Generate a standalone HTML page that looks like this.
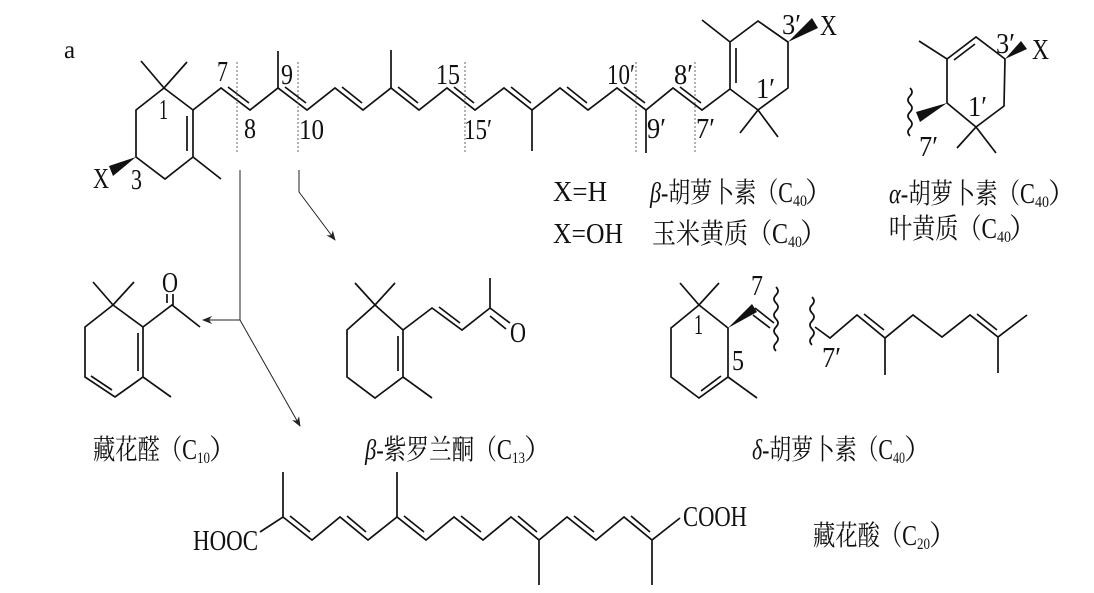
<!DOCTYPE html>
<html><head><meta charset="utf-8"><style>
html,body{margin:0;padding:0;background:#fff;}
svg{display:block;}
.b{stroke:#111;stroke-width:1.7;fill:none;stroke-linejoin:miter;}
.t{font-family:"Liberation Serif","Noto Serif CJK SC",serif;fill:#111;}
.a{stroke:#222;stroke-width:1;fill:none;}
.d{stroke:#555;stroke-width:0.9;stroke-dasharray:2,2;fill:none;}
</style></head><body>
<svg width="1094" height="593" viewBox="0 0 1094 593" xmlns="http://www.w3.org/2000/svg">
<defs><marker id="ar" markerWidth="10" markerHeight="8" refX="9" refY="4" orient="auto" markerUnits="userSpaceOnUse"><path d="M0,0 L10,4 L0,8 L3,4 Z" fill="#222"/></marker></defs>

<text class="t" x="64" y="58" font-size="25">a</text>

<!-- left beta ring -->
<path class="b" d="M141,61 L164,88 L187,62 M164,88 L193,110 L193,157 L221,179 M193,157 L165,179 L136,157 L136,110 L164,88"/>
<path class="b" d="M187,116 L187,151"/>
<polygon points="136,157 109,166 113,176" fill="#111"/>
<!-- main chain -->
<path class="b" d="M193,110 L221,88 L250,110 L278,88 L307,110 L335,88 L363,110 L391,88 L419,110 L447,88 L475,110 L504,88 L532,110 L560,88 L588,110 L617,88 L646,110 L673,88 L702,110 L730,89"/>
<path class="b" d="M278,88 L278,51 M391,88 L391,50 M532,110 L532,151 M646,110 L646,153"/>
<path class="b" d="M228,87 L249,103 M285,87 L306,103 M342,87 L362,103 M398,87 L418,103 M454,87 L474,103 M511,87 L531,103 M567,87 L587,103 M624,87 L645,103 M680,87 L701,103"/>
<!-- right beta ring -->
<path class="b" d="M730,89 L730,42 L702,20 M730,42 L758,21 L788,42 L788,88 L758,110 L730,89 M758,110 L740,133 M758,110 L778,137"/>
<path class="b" d="M736,48 L736,83"/>
<polygon points="788,42 812,18 818,28" fill="#111"/>
<!-- dashed -->
<path class="d" d="M237,62 V152 M298,62 V152 M465,62 V152 M636,62 V152 M695,62 V152"/>
<!-- labels main -->
<g class="t" font-size="28">
<text x="93" y="188" textLength="16" lengthAdjust="spacingAndGlyphs">X</text>
<text x="131" y="189" textLength="11" lengthAdjust="spacingAndGlyphs">3</text>
<text x="159" y="119" textLength="9" lengthAdjust="spacingAndGlyphs">1</text>
<text x="217" y="81" textLength="11" lengthAdjust="spacingAndGlyphs">7</text>
<text x="244" y="138" textLength="12" lengthAdjust="spacingAndGlyphs">8</text>
<text x="281" y="84" textLength="12" lengthAdjust="spacingAndGlyphs">9</text>
<text x="299" y="139" textLength="25" lengthAdjust="spacingAndGlyphs">10</text>
<text x="436" y="84" textLength="24" lengthAdjust="spacingAndGlyphs">15</text>
<text x="464" y="139" textLength="28" lengthAdjust="spacingAndGlyphs">15′</text>
<text x="607" y="84" textLength="28" lengthAdjust="spacingAndGlyphs">10′</text>
<text x="674" y="84" textLength="19" lengthAdjust="spacingAndGlyphs">8′</text>
<text x="647" y="138" textLength="19" lengthAdjust="spacingAndGlyphs">9′</text>
<text x="696" y="138" textLength="19" lengthAdjust="spacingAndGlyphs">7′</text>
<text x="756" y="98" textLength="19" lengthAdjust="spacingAndGlyphs">1′</text>
<text x="782" y="34" textLength="19" lengthAdjust="spacingAndGlyphs">3′</text>
<text x="820" y="35" textLength="17" lengthAdjust="spacingAndGlyphs">X</text>
</g>

<!-- alpha ring -->
<path class="b" d="M919,41 L947,59 L976,37 L1005,59 L1004,106 L976,127 L947,103 L947,59 M976,127 L957,148 M976,127 L996,153"/>
<path class="b" d="M954,60 L975,44"/>
<polygon points="1005,59 1021,41 1027,49" fill="#111"/>
<polygon points="947,103 916,112 920,122" fill="#111"/>
<path class="b" stroke-width="1.2" d="M910,88 q4,4 0,8 t0,8 t0,8 t0,8 t0,8 t0,8"/>
<g class="t" font-size="28">
<text x="996" y="53" textLength="19" lengthAdjust="spacingAndGlyphs">3′</text>
<text x="1032" y="59" textLength="17" lengthAdjust="spacingAndGlyphs">X</text>
<text x="968" y="116" textLength="19" lengthAdjust="spacingAndGlyphs">1′</text>
<text x="919" y="156" textLength="19" lengthAdjust="spacingAndGlyphs">7′</text>
</g>

<!-- compound label rows -->
<g class="t" font-size="28">
<text x="553" y="201" textLength="54" lengthAdjust="spacingAndGlyphs">X=H</text>
<text x="553" y="243" textLength="70" lengthAdjust="spacingAndGlyphs">X=OH</text>
<text x="650" y="202" textLength="143" lengthAdjust="spacingAndGlyphs"><tspan font-style="italic">β</tspan>-胡萝卜素（C</text>
<text x="793" y="206" font-size="16" textLength="14" lengthAdjust="spacingAndGlyphs">40</text>
<text x="805" y="202">）</text>
<text x="652" y="243" textLength="136" lengthAdjust="spacingAndGlyphs">玉米黄质（C</text>
<text x="788" y="247" font-size="16" textLength="14" lengthAdjust="spacingAndGlyphs">40</text>
<text x="800" y="243">）</text>
<text x="889" y="203" textLength="146" lengthAdjust="spacingAndGlyphs"><tspan font-style="italic">α</tspan>-胡萝卜素（C</text>
<text x="1035" y="207" font-size="16" textLength="14" lengthAdjust="spacingAndGlyphs">40</text>
<text x="1048" y="203">）</text>
<text x="889" y="238" textLength="108" lengthAdjust="spacingAndGlyphs">叶黄质（C</text>
<text x="997" y="242" font-size="16" textLength="14" lengthAdjust="spacingAndGlyphs">40</text>
<text x="1009" y="238">）</text>

<text x="93" y="459" textLength="104" lengthAdjust="spacingAndGlyphs">藏花醛（C</text>
<text x="197" y="463" font-size="16" textLength="13" lengthAdjust="spacingAndGlyphs">10</text>
<text x="209" y="459">）</text>
<text x="365" y="459" textLength="147" lengthAdjust="spacingAndGlyphs"><tspan font-style="italic">β</tspan>-紫罗兰酮（C</text>
<text x="512" y="463" font-size="16" textLength="13" lengthAdjust="spacingAndGlyphs">13</text>
<text x="524" y="459">）</text>
<text x="752" y="459" textLength="141" lengthAdjust="spacingAndGlyphs"><tspan font-style="italic">δ</tspan>-胡萝卜素（C</text>
<text x="893" y="463" font-size="16" textLength="12" lengthAdjust="spacingAndGlyphs">40</text>
<text x="904" y="459">）</text>
<text x="813" y="545" textLength="104" lengthAdjust="spacingAndGlyphs">藏花酸（C</text>
<text x="917" y="549" font-size="16" textLength="13" lengthAdjust="spacingAndGlyphs">20</text>
<text x="929" y="545">）</text>
</g>

<!-- arrows -->
<path class="a" d="M240,170 L240,320"/>
<path class="a" d="M240,320 L203,320" marker-end="url(#ar)"/>
<path class="a" d="M240,320 L300,426" marker-end="url(#ar)"/>
<path class="a" d="M299,170 L299,192 L335,240" marker-end="url(#ar)"/>

<!-- safranal -->
<path class="b" d="M93,282 L113,305 L134,282 M113,305 L143,327 L143,377 L115,397 L85,377 L85,327 L113,305 M143,377 L171,397 M143,327 L172,305 L200,327 M173,305 L173,294"/>
<path class="b" d="M138,333 L138,371 M112,390 L91,376 M167,303 L167,294"/>
<text class="t" x="162" y="292" font-size="28" textLength="16" lengthAdjust="spacingAndGlyphs">O</text>

<!-- beta-ionone -->
<path class="b" d="M355,283 L375,305 L395,283 M375,305 L403,330 L403,377 L375,398 L347,377 L347,330 L375,305 M403,377 L432,398 M403,330 L432,308 L462,330 L490,308 L490,278 M490,308 L510,323"/>
<path class="b" d="M398,336 L398,371 M439,307 L460,323 M490,316 L506,329"/>
<text class="t" x="510" y="342" font-size="28" textLength="16" lengthAdjust="spacingAndGlyphs">O</text>

<!-- delta -->
<path class="b" d="M680,283 L699,305 L719,283 M699,305 L728,328 L728,377 L699,398 L671,377 L671,328 L699,305 M728,377 L757,398 M755,308 L774,323"/>
<path class="b" d="M721,376 L701,391 M753,315 L770,328"/>
<polygon points="728,328 752,304 757,312" fill="#111"/>
<path class="b" stroke-width="1.2" d="M776,287 q4,4 0,8 t0,8 t0,8 t0,8 t0,8 t0,8 t0,8 t0,8"/>
<path class="b" stroke-width="1.2" d="M812,297 q4,4 0,8 t0,8 t0,8 t0,8 t0,8 t0,8"/>
<path class="b" d="M815,327 L830,338 L857,315 L885,338 L913,315 L942,337 L970,315 L998,337 L1027,315 M885,338 L885,375 M998,337 L998,373"/>
<path class="b" d="M864,314 L884,330 M977,314 L997,330"/>
<g class="t" font-size="28">
<text x="751" y="295" textLength="12" lengthAdjust="spacingAndGlyphs">7</text>
<text x="694" y="334" textLength="9" lengthAdjust="spacingAndGlyphs">1</text>
<text x="732" y="370" textLength="12" lengthAdjust="spacingAndGlyphs">5</text>
<text x="822" y="367" textLength="19" lengthAdjust="spacingAndGlyphs">7′</text>
</g>

<!-- crocetin -->
<path class="b" d="M260,532 L283,517 L312,540 L340,517 L368,540 L397,517 L426,540 L454,517 L483,540 L511,517 L539,540 L567,517 L596,540 L624,517 L652,540 L680,518 M283,517 L283,472 M397,517 L397,472 M539,540 L539,585 M652,540 L652,585"/>
<path class="b" d="M290,516 L310,532 M347,516 L366,532 M404,516 L424,532 M461,516 L481,532 M518,516 L537,532 M574,516 L594,532 M631,516 L650,532"/>
<g class="t" font-size="28">
<text x="193" y="550" textLength="65" lengthAdjust="spacingAndGlyphs">HOOC</text>
<text x="683" y="526" textLength="64" lengthAdjust="spacingAndGlyphs">COOH</text>
</g>
</svg>
</body></html>
